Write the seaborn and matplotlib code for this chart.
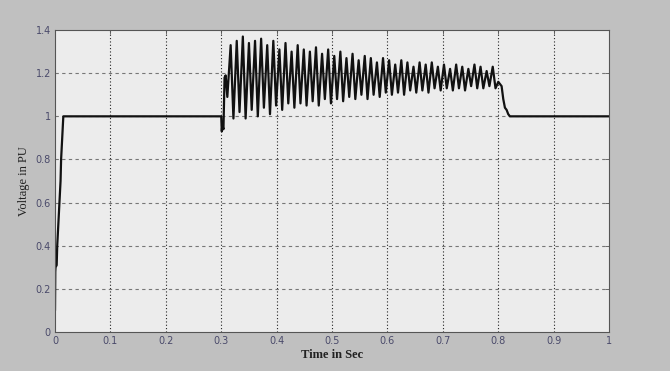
import matplotlib
matplotlib.use("Agg")
import matplotlib.pyplot as plt
import seaborn as sns
import pandas as pd

# --- data ---
ramp_t = [0.000, 0.0005, 0.001, 0.003, 0.004, 0.006, 0.008, 0.010, 0.011, 0.013, 0.015, 0.300]
ramp_v = [0.10, 0.28, 0.30, 0.31, 0.40, 0.50, 0.60, 0.70, 0.80, 0.90, 1.00, 1.00]

dip_t = [0.301, 0.302, 0.304, 0.306, 0.308, 0.311]
dip_v = [0.93, 0.96, 0.94, 1.18, 1.19, 1.09]

peak_t = [0.317, 0.328, 0.339, 0.350, 0.361, 0.372, 0.383, 0.394, 0.405, 0.416,
          0.427, 0.438, 0.449, 0.460, 0.471, 0.482, 0.493, 0.504, 0.515, 0.526,
          0.537, 0.548, 0.559, 0.570, 0.581, 0.592, 0.603, 0.614, 0.625, 0.636,
          0.647, 0.658, 0.669, 0.680, 0.691, 0.702, 0.713, 0.724, 0.735, 0.746,
          0.757, 0.768, 0.779, 0.790]
peak_v = [1.33, 1.35, 1.37, 1.34, 1.35, 1.36, 1.33, 1.35, 1.31, 1.34,
          1.30, 1.33, 1.31, 1.30, 1.32, 1.29, 1.31, 1.28, 1.30, 1.27,
          1.29, 1.26, 1.28, 1.27, 1.25, 1.27, 1.26, 1.24, 1.26, 1.25,
          1.23, 1.25, 1.24, 1.25, 1.23, 1.24, 1.22, 1.24, 1.23, 1.22,
          1.24, 1.23, 1.21, 1.23]

trough_t = [0.322, 0.333, 0.344, 0.355, 0.366, 0.377, 0.388, 0.399, 0.410, 0.421,
            0.432, 0.443, 0.454, 0.465, 0.476, 0.487, 0.498, 0.509, 0.520, 0.531,
            0.542, 0.553, 0.564, 0.575, 0.586, 0.597, 0.608, 0.619, 0.630, 0.641,
            0.652, 0.663, 0.674, 0.685, 0.696, 0.707, 0.718, 0.729, 0.740, 0.751,
            0.762, 0.773, 0.784, 0.795]
trough_v = [0.99, 1.02, 0.99, 1.03, 1.00, 1.04, 1.01, 1.05, 1.03, 1.06,
            1.04, 1.06, 1.05, 1.07, 1.05, 1.08, 1.06, 1.08, 1.07, 1.09,
            1.08, 1.10, 1.08, 1.10, 1.09, 1.11, 1.10, 1.11, 1.10, 1.12,
            1.11, 1.12, 1.11, 1.13, 1.12, 1.13, 1.12, 1.13, 1.12, 1.14,
            1.13, 1.13, 1.14, 1.13]

tail_t = [0.800, 0.803, 0.806, 0.809, 0.812, 0.815, 0.818, 0.821, 1.000]
tail_v = [1.16, 1.15, 1.14, 1.08, 1.04, 1.03, 1.01, 1.00, 1.00]

x_ticks = [0, 0.1, 0.2, 0.3, 0.4, 0.5, 0.6, 0.7, 0.8, 0.9, 1]
x_labels = ["0", "0.1", "0.2", "0.3", "0.4", "0.5", "0.6", "0.7", "0.8", "0.9", "1"]
y_ticks = [0, 0.2, 0.4, 0.6, 0.8, 1.0, 1.2, 1.4]
y_labels = ["0", "0.2", "0.4", "0.6", "0.8", "1", "1.2", "1.4"]

# --- assemble series ---
osc_t, osc_v = [], []
for pt, pv, tt, tv in zip(peak_t, peak_v, trough_t, trough_v):
    osc_t += [pt, tt]
    osc_v += [pv, tv]

df = pd.DataFrame({
    "t": ramp_t + dip_t + osc_t + tail_t,
    "v": ramp_v + dip_v + osc_v + tail_v,
})

sns.set_style("white")
fig = plt.figure(figsize=(6.7, 3.71), dpi=100, facecolor="#c0c0c0")
ax = fig.add_axes([0.0821, 0.105, 0.827, 0.814])
ax.set_facecolor("#ececec")

ax.grid(False)
for xt in x_ticks[1:-1]:
    ax.axvline(xt, color="#222222", linestyle=(0, (1, 2)), linewidth=0.8, zorder=0)
for yt in y_ticks[1:-1]:
    ax.axhline(yt, color="#777777", linestyle=(0, (3, 3)), linewidth=0.8, zorder=0)

sns.lineplot(data=df, x="t", y="v", ax=ax, color="#111111", linewidth=1.6,
             estimator=None, sort=False, legend=False)

ax.set_xlim(0, 1)
ax.set_ylim(0, 1.4)
ax.set_xticks(x_ticks)
ax.set_xticklabels(x_labels)
ax.set_yticks(y_ticks)
ax.set_yticklabels(y_labels)
ax.tick_params(axis="both", direction="in", length=3, width=0.6, labelsize=7,
               labelcolor="#4a4a6a", color="#555555", top=True, right=True, pad=3)
for s in ax.spines.values():
    s.set_color("#555555")
    s.set_linewidth(0.8)

ax.set_xlabel("Time in Sec", family="Liberation Serif", fontweight="bold",
              fontsize=9, color="#222222", labelpad=2)
ax.set_ylabel("Voltage in PU", family="Liberation Serif", fontsize=9,
              color="#222222", labelpad=4)

fig.savefig("out.png", dpi=100, facecolor=fig.get_facecolor())
